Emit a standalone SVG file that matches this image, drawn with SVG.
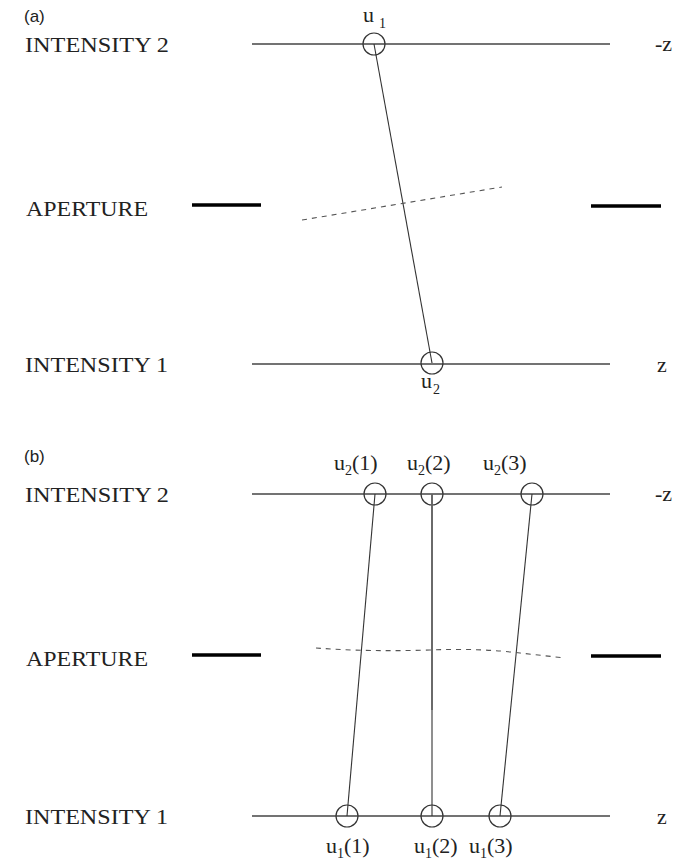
<svg xmlns="http://www.w3.org/2000/svg" width="697" height="862" viewBox="0 0 697 862">
<style>
.t{font-family:"Liberation Serif","Times New Roman",serif;font-size:22px;fill:#222}
.s{font-family:"Liberation Sans",Arial,sans-serif;font-size:17px;fill:#222}
.sub{font-size:14px}
.pl{stroke:#444;stroke-width:1.6;fill:none}
.ap{stroke:#000;stroke-width:3.5;fill:none}
.c{stroke:#333;stroke-width:1.2;fill:none}
.ln{stroke:#333;stroke-width:1.1;fill:none}
.d{stroke:#555;stroke-width:1.1;fill:none;stroke-dasharray:5 5}
</style>
<rect width="697" height="862" fill="#fff"/>
<g id="panel-a">
  <text class="s" x="24" y="22">(a)</text>
  <g id="a-intensity2">
    <text class="t" x="25" y="52" textLength="144" lengthAdjust="spacingAndGlyphs">INTENSITY 2</text>
    <line class="pl" x1="252" y1="44" x2="610" y2="44"/>
    <text class="t" x="655" y="51">-z</text>
  </g>
  <g id="a-u1">
    <circle class="c" cx="374" cy="44" r="11"/>
    <text class="t" x="363" y="22">u<tspan class="sub" dx="5" dy="6">1</tspan></text>
  </g>
  <g id="a-aperture">
    <text class="t" x="26" y="216" textLength="122" lengthAdjust="spacingAndGlyphs">APERTURE</text>
    <line class="ap" x1="192" y1="205" x2="261" y2="205"/>
    <line class="ap" x1="591" y1="206" x2="661" y2="206"/>
  </g>
  <g id="a-intensity1">
    <text class="t" x="25" y="372" textLength="143" lengthAdjust="spacingAndGlyphs">INTENSITY 1</text>
    <line class="pl" x1="252" y1="364" x2="610" y2="364"/>
    <text class="t" x="657" y="372">z</text>
  </g>
  <g id="a-u2">
    <circle class="c" cx="432" cy="363" r="11"/>
    <text class="t" x="421" y="388">u<tspan class="sub" dx="1" dy="6">2</tspan></text>
  </g>
</g>
<g id="panel-b">
  <text class="s" x="24" y="462">(b)</text>
  <g id="b-intensity2">
    <text class="t" x="25" y="502" textLength="144" lengthAdjust="spacingAndGlyphs">INTENSITY 2</text>
    <line class="pl" x1="252" y1="494" x2="610" y2="494"/>
    <text class="t" x="655" y="501">-z</text>
  </g>
  <g id="b-u2-1">
    <circle class="c" cx="375" cy="494" r="11"/>
    <text class="t" x="334" y="470">u<tspan class="sub" dy="5">2</tspan><tspan dy="-5">(1)</tspan></text>
  </g>
  <g id="b-u2-2">
    <circle class="c" cx="432" cy="494" r="11"/>
    <text class="t" x="407" y="470">u<tspan class="sub" dy="5">2</tspan><tspan dy="-5">(2)</tspan></text>
  </g>
  <g id="b-u2-3">
    <circle class="c" cx="532" cy="494" r="11"/>
    <text class="t" x="483" y="470">u<tspan class="sub" dy="5">2</tspan><tspan dy="-5">(3)</tspan></text>
  </g>
  <g id="b-aperture">
    <text class="t" x="26" y="666" textLength="122" lengthAdjust="spacingAndGlyphs">APERTURE</text>
    <line class="ap" x1="192" y1="655" x2="261" y2="655"/>
    <line class="ap" x1="591" y1="656" x2="661" y2="656"/>
  </g>
  <g id="b-intensity1">
    <text class="t" x="25" y="824" textLength="143" lengthAdjust="spacingAndGlyphs">INTENSITY 1</text>
    <line class="pl" x1="252" y1="816" x2="610" y2="816"/>
    <text class="t" x="657" y="824">z</text>
  </g>
  <g id="b-u1-1">
    <circle class="c" cx="347" cy="816" r="11"/>
    <text class="t" x="326" y="853">u<tspan class="sub" dy="5">1</tspan><tspan dy="-5">(1)</tspan></text>
  </g>
  <g id="b-u1-2">
    <circle class="c" cx="432" cy="816" r="11"/>
    <text class="t" x="414" y="853">u<tspan class="sub" dy="5">1</tspan><tspan dy="-5">(2)</tspan></text>
  </g>
  <g id="b-u1-3">
    <circle class="c" cx="500" cy="816" r="11"/>
    <text class="t" x="469" y="853">u<tspan class="sub" dy="5">1</tspan><tspan dy="-5">(3)</tspan></text>
  </g>
</g>
<g id="connectors">
  <line class="ln" x1="374" y1="44" x2="432" y2="363"/>
  <path class="d" d="M302,220 L502,187"/>
  <line class="ln" x1="375" y1="494" x2="347" y2="816"/>
  <line class="ln" x1="432" y1="494" x2="432" y2="816"/>
  <line x1="432" y1="494" x2="432" y2="710" stroke="#666" stroke-width="1.8"/>
  <line class="ln" x1="532" y1="494" x2="500" y2="816"/>
  <path class="d" d="M316,648 Q370,652 430,650 Q480,648 520,653 L565,658"/>
</g>
</svg>
